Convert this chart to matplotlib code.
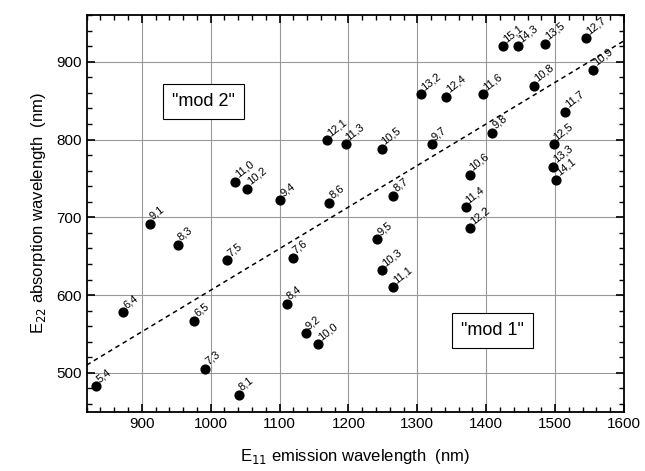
import matplotlib.pyplot as plt
from matplotlib.ticker import MultipleLocator

plt.rcParams['font.family'] = ['Liberation Sans', 'DejaVu Sans']

# chirality labels (n,m) with E11 emission / E22 absorption (nm)
labels = ['5,4', '6,4', '6,5', '7,3', '8,1', '8,3', '7,5', '9,1', '7,6',
          '8,4', '9,2', '10,0', '11,0', '10,2', '9,4', '12,1', '8,6', '11,3',
          '9,5', '10,3', '11,1', '10,5', '8,7', '9,7', '13,2', '12,4', '11,6',
          '10,6', '11,4', '12,2', '9,8', '15,1', '14,3', '13,5', '12,7', '10,8',
          '10,9', '11,7', '12,5', '13,3', '14,1']
e11 = [834, 873, 976, 992, 1041, 952, 1024, 912, 1119,
       1111, 1138, 1156, 1036, 1053, 1101, 1169, 1172, 1196,
       1242, 1249, 1265, 1248, 1265, 1321, 1306, 1342, 1396,
       1376, 1370, 1377, 1409, 1425, 1446, 1486, 1545, 1469,
       1555, 1515, 1498, 1497, 1501]
e22 = [483, 578, 567, 505, 472, 665, 645, 692, 648,
       589, 551, 537, 746, 737, 722, 799, 719, 794,
       672, 632, 610, 788, 728, 794, 858, 855, 858,
       755, 713, 686, 809, 920, 920, 923, 930, 869,
       890, 836, 794, 765, 748]

# dashed divider line between mod 1 and mod 2
line_x = [820, 1600]
line_y = [510, 927]

fig = plt.figure(figsize=(6.45, 4.71), dpi=100)
ax = fig.add_axes([0.1344, 0.1259, 0.833, 0.842])

ax.grid(True, which='major', color='#999999', linewidth=0.8)
ax.set_axisbelow(True)

ax.plot(line_x, line_y, linestyle=(0, (3, 2.5)), color='black', linewidth=1.1)
ax.scatter(e11, e22, s=40, color='black', zorder=3)

for lab, x, y in zip(labels, e11, e22):
    ax.annotate(lab, (x, y), xytext=(3, 1.5), textcoords='offset points',
                fontsize=8, rotation=38, rotation_mode='anchor',
                ha='left', va='bottom')

box = dict(boxstyle='square,pad=0.5', facecolor='white', edgecolor='black', linewidth=0.8)
ax.text(989, 849, '"mod 2"', fontsize=13, ha='center', va='center', bbox=box)
ax.text(1409, 554, '"mod 1"', fontsize=13, ha='center', va='center', bbox=box)

ax.set_xlim(820, 1600)
ax.set_ylim(450, 960)
ax.xaxis.set_major_locator(MultipleLocator(100))
ax.xaxis.set_minor_locator(MultipleLocator(20))
ax.yaxis.set_major_locator(MultipleLocator(100))
ax.yaxis.set_minor_locator(MultipleLocator(20))
ax.tick_params(which='both', direction='in', top=True, right=True, labelsize=11)
ax.tick_params(which='major', length=6, width=1.2)
ax.tick_params(which='minor', length=3.5, width=1)
for sp in ax.spines.values():
    sp.set_linewidth(1.3)

ax.set_xlabel('E$_{11}$ emission wavelength  (nm)', fontsize=12, labelpad=12)
ax.set_ylabel('E$_{22}$ absorption wavelength  (nm)', fontsize=12, labelpad=6)

fig.savefig('out.png', dpi=100)
